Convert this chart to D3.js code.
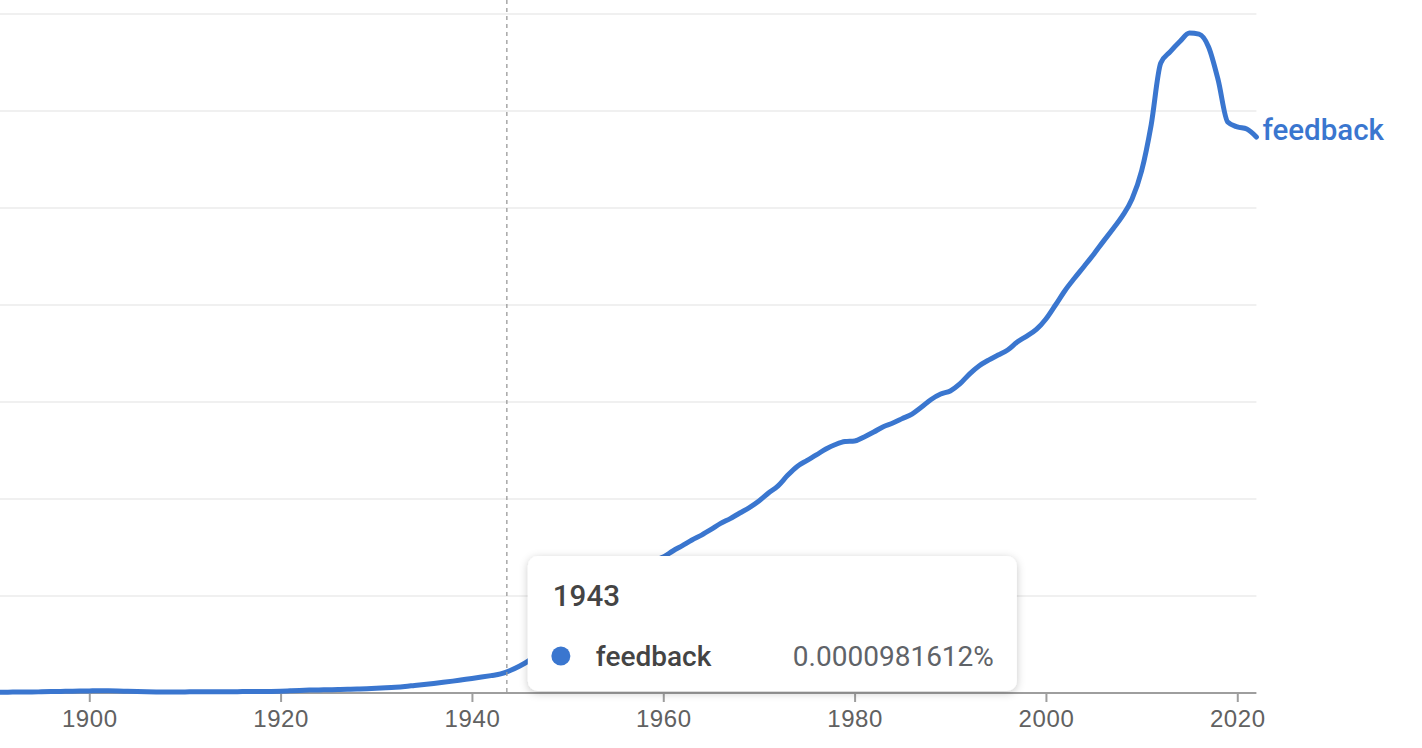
<!DOCTYPE html>
<html>
<head>
<meta charset="utf-8">
<script src="https://cdn.jsdelivr.net/npm/d3@7"></script>
<style>
  html, body { margin: 0; padding: 0; background: #fff; }
  svg { display: block; font-family: Roboto, "Noto Sans", Arial, sans-serif; }
</style>
</head>
<body>
<svg id="chart" width="1422" height="748"></svg>
<script>
// ---------- data ----------
const seriesName = "feedback";
const years = d3.range(1890, 2023);
const values = [
  0.0000036, 0.0000041, 0.0000046, 0.0000052, 0.0000052, 0.0000062, 0.0000072, 0.0000082, 0.0000093, 0.0000103, // 1890-1899
  0.0000108, 0.0000113, 0.0000113, 0.0000108, 0.0000088, 0.0000072, 0.0000062, 0.0000057, 0.0000057, 0.0000057, // 1900-1909
  0.0000057, 0.0000062, 0.0000062, 0.0000067, 0.0000067, 0.0000067, 0.0000072, 0.0000072, 0.0000077, 0.0000082, // 1910-1919
  0.0000093, 0.0000113, 0.0000134, 0.0000149, 0.0000160, 0.0000170, 0.0000180, 0.0000191, 0.0000206, 0.0000222, // 1920-1929
  0.0000242, 0.0000268, 0.0000299, 0.0000340, 0.0000392, 0.0000443, 0.0000495, 0.0000552, 0.0000613, 0.0000680, // 1930-1939
  0.0000747, 0.0000820, 0.0000897, 0.0000981612, 0.000116, 0.000139, 0.000168, 0.000209, 0.000253, 0.000294, // 1940-1949
  0.000335, 0.000374, 0.000412, 0.000451, 0.000490, 0.000531, 0.000572, 0.000611, 0.000649, 0.000680,      // 1950-1959
  0.000701, 0.000732, 0.000760, 0.000789, 0.000814, 0.000843, 0.000874, 0.000899, 0.000928, 0.000956,      // 1960-1969
  0.000990, 0.001031, 0.001068, 0.001122, 0.001168, 0.001198, 0.001227, 0.001258, 0.001281, 0.001296,      // 1970-1979
  0.001299, 0.001320, 0.001345, 0.001373, 0.001392, 0.001415, 0.001438, 0.001474, 0.001513, 0.001541,      // 1980-1989
  0.001557, 0.001593, 0.001644, 0.001686, 0.001716, 0.001742, 0.001768, 0.001809, 0.001840, 0.001874,      // 1990-1999
  0.001928, 0.002000, 0.002075, 0.002139, 0.002200, 0.002262, 0.002328, 0.002392, 0.002459, 0.002546,      // 2000-2009
  0.002691, 0.002928, 0.003247, 0.003306, 0.003358, 0.003402, 0.003396, 0.003330, 0.003160, 0.002943,      // 2010-2019
  0.002918, 0.002907, 0.002866                                                                              // 2020-2022
];
const xTickYears = [1900, 1920, 1940, 1960, 1980, 2000, 2020];
const yGridValues = [0, 0.0005, 0.001, 0.0015, 0.002, 0.0025, 0.003, 0.0035];
const hoverYear = 1943;
const hoverValueText = "0.0000981612%";
const cursorYear = 1943.65;

// ---------- layout ----------
const svg = d3.select("#chart");
const lineColor = "#3a76cf";

const x = d3.scaleLinear().domain([1890, 2022]).range([-6.4, 1256.4]);
const y = d3.scaleLinear().domain([0, 0.0035]).range([693, 14]);

const data = years.map((yr, i) => ({ year: yr, value: values[i] }));

// gridlines
svg.append("g").selectAll("line")
  .data(yGridValues.filter(v => v > 0))
  .join("line")
  .attr("x1", 0).attr("x2", x(2022))
  .attr("y1", d => y(d)).attr("y2", d => y(d))
  .attr("stroke", "#f0f0f0").attr("stroke-width", 2);

// x axis
const xAxis = d3.axisBottom(x)
  .tickValues(xTickYears)
  .tickFormat(d3.format("d"))
  .tickSize(9)
  .tickSizeOuter(0)
  .tickPadding(8);

const gx = svg.append("g")
  .attr("transform", `translate(0,${y(0)})`)
  .call(xAxis);
gx.select(".domain").attr("stroke", "#9e9e9e").attr("stroke-width", 2)
  .attr("d", `M0,0H${x(2022)}`);
gx.selectAll(".tick line").attr("stroke", "#9e9e9e").attr("stroke-width", 2);
gx.selectAll(".tick text")
  .attr("fill", "#616161")
  .style("font-size", "24px")
  .style("font-weight", "500")
  .style("letter-spacing", "0.6px");

// line
const line = d3.line()
  .x(d => x(d.year))
  .y(d => y(d.value))
  .curve(d3.curveMonotoneX);

svg.append("path")
  .datum(data)
  .attr("d", line)
  .attr("fill", "none")
  .attr("stroke", lineColor)
  .attr("stroke-width", 5)
  .attr("stroke-linejoin", "round")
  .attr("stroke-linecap", "round");

// end label
const last = data[data.length - 1];
svg.append("text")
  .attr("x", x(last.year) + 6)
  .attr("y", y(last.value) + 3)
  .attr("fill", lineColor)
  .style("font-size", "29.5px")
  .style("font-weight", "500")
  .text(seriesName);

// cursor dashed line
svg.append("line")
  .attr("x1", x(cursorYear)).attr("x2", x(cursorYear))
  .attr("y1", 0).attr("y2", y(0))
  .attr("stroke", "#9a9a9a")
  .attr("stroke-width", 1.3)
  .attr("stroke-dasharray", "4,4");

// tooltip
const defs = svg.append("defs");
const f = defs.append("filter").attr("id", "shadow")
  .attr("x", "-10%").attr("y", "-20%").attr("width", "120%").attr("height", "150%");
f.append("feDropShadow")
  .attr("dx", 0).attr("dy", 2)
  .attr("stdDeviation", 4)
  .attr("flood-color", "#000")
  .attr("flood-opacity", 0.22);

const tipX = x(cursorYear) + 21, tipY = 556, tipW = 489, tipH = 135;
const tip = svg.append("g").attr("transform", `translate(${tipX},${tipY})`);
tip.append("rect")
  .attr("width", tipW).attr("height", tipH)
  .attr("rx", 10).attr("ry", 10)
  .attr("fill", "#fff")
  .attr("filter", "url(#shadow)");
tip.append("text")
  .attr("x", 25).attr("y", 50)
  .attr("fill", "#444")
  .style("font-size", "29.5px")
  .style("font-weight", "500")
  .text(hoverYear);
tip.append("circle")
  .attr("cx", 33).attr("cy", 100)
  .attr("r", 9.5)
  .attr("fill", lineColor);
tip.append("text")
  .attr("x", 68).attr("y", 110)
  .attr("fill", "#444")
  .style("font-size", "28px")
  .style("font-weight", "500")
  .text(seriesName);
tip.append("text")
  .attr("x", tipW - 23).attr("y", 110)
  .attr("text-anchor", "end")
  .attr("fill", "#5f6368")
  .style("font-size", "28px")
  .style("font-weight", "400")
  .text(hoverValueText);
</script>
</body>
</html>
